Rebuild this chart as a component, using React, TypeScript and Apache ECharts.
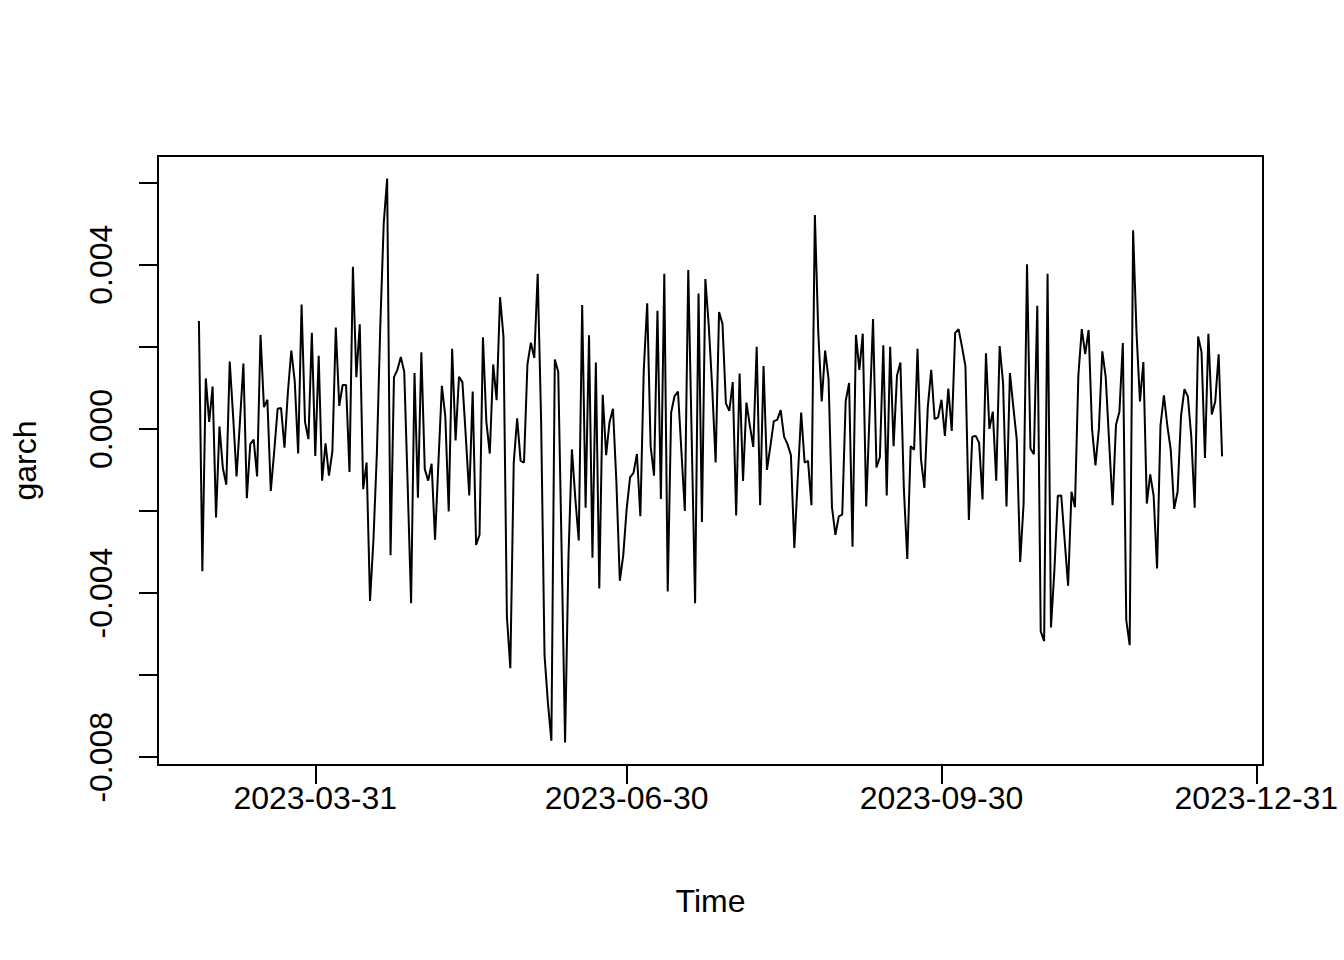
import React, { useEffect, useRef } from "react";
import * as echarts from "echarts";

// Daily series starting 2023-02-25
const START = { y: 2023, m: 1, d: 25 };
const values: number[] = [
  0.00263, -0.00347, 0.00123, 0.00017, 0.00103, -0.00216, 0.00006, -0.00096, -0.00136, 0.00164,
  0.0003, -0.00116, 0.0002, 0.00159, -0.00169, -0.00037, -0.00026, -0.00116, 0.00229, 0.00053,
  0.00071, -0.00151, -0.00055, 0.00049, 0.00051, -0.00046, 0.0009, 0.00191, 0.00116, -0.0006,
  0.00303, 0.00017, -0.00025, 0.00234, -0.00066, 0.00178, -0.00126, -0.00035, -0.00114, -0.00055,
  0.00247, 0.00056, 0.00107, 0.00107, -0.00105, 0.00395, 0.00126, 0.00255, -0.00147, -0.00082,
  -0.00419, -0.0027, -0.0006, 0.0025, 0.005, 0.0061, -0.00308, 0.00126, 0.00144, 0.00175,
  0.00139, -0.00136, -0.00425, 0.00136, -0.00168, 0.00187, -0.00098, -0.00126, -0.00085, -0.0027,
  -0.0008, 0.00105, 0.0003, -0.00201, 0.00195, -0.00028, 0.00127, 0.00114, -0.0002, -0.00162,
  0.00091, -0.00283, -0.00258, 0.00223, 0.00017, -0.0006, 0.00157, 0.0007, 0.00321, 0.00225,
  -0.00457, -0.00583, -0.00082, 0.00026, -0.00078, -0.00082, 0.00157, 0.0021, 0.00173, 0.00378,
  0.0002, -0.00552, -0.00669, -0.0076, 0.00169, 0.00139, -0.003, -0.00764, -0.0031, -0.0005,
  -0.0017, -0.00272, 0.00302, -0.00192, 0.00228, -0.00314, 0.00162, -0.00389, 0.00083, -0.00064,
  0.00017, 0.00049, -0.0013, -0.0037, -0.00308, -0.00195, -0.00118, -0.00107, -0.00061, -0.00213,
  0.00144, 0.00306, -0.00042, -0.00114, 0.00288, -0.00171, 0.00378, -0.00396, 0.0004, 0.0008,
  0.00091, -0.00055, -0.002, 0.00387, -0.0002, -0.00425, 0.0033, -0.00227, 0.00365, 0.0025,
  0.001, -0.00082, 0.00285, 0.00256, 0.00062, 0.00044, 0.00114, -0.00211, 0.00135, -0.00127,
  0.00064, 0.00008, -0.00044, 0.002, -0.00186, 0.00153, -0.001, -0.00042, 0.00019, 0.00022,
  0.00046, -0.00019, -0.00037, -0.00064, -0.0029, -0.0012, 0.0004, -0.00082, -0.00078, -0.00186,
  0.00521, 0.00234, 0.00067, 0.00191, 0.00121, -0.00191, -0.00258, -0.00213, -0.00209, 0.00067,
  0.00112, -0.00287, 0.00229, 0.00144, 0.00232, -0.00189, 0.0004, 0.00268, -0.00094, -0.00069,
  0.00204, -0.00162, 0.002, -0.00042, 0.0013, 0.00162, -0.00145, -0.00317, -0.00042, -0.00051,
  0.00195, -0.00073, -0.00144, 0.00053, 0.00144, 0.00024, 0.00028, 0.00071, -0.00017, 0.00098,
  -0.00005, 0.00234, 0.00243, 0.002, 0.00153, -0.00222, -0.00019, -0.00017, -0.00034, -0.00172,
  0.00184, 0, 0.00042, -0.00126, 0.00202, 0.00112, -0.00189, 0.00136, 0.00053, -0.00026,
  -0.00324, -0.00182, 0.00401, -0.00048, -0.00062, 0.003, -0.00493, -0.00517, 0.00378, -0.00484,
  -0.00344, -0.00163, -0.00162, -0.00272, -0.00382, -0.00153, -0.00191, 0.0013, 0.00243, 0.00182,
  0.00241, 0, -0.00089, 0, 0.00189, 0.00126, -0.00033, -0.00186, 0.0001, 0.00042,
  0.00209, -0.00466, -0.00527, 0.00484, 0.00234, 0.00067, 0.00163, -0.00182, -0.00111, -0.00163,
  -0.0034, 0.00008, 0.00082, 0.00008, -0.00051, -0.00195, -0.00153, 0.00031, 0.00097, 0.00079,
  -0.00019, -0.00192, 0.00225, 0.00187, -0.00071, 0.00232, 0.00035, 0.00067, 0.00182, -0.00067,
];

const xTickLabels = ["2023-03-31", "2023-06-30", "2023-09-30", "2023-12-31"];
const yTicks = [-0.008, -0.006, -0.004, -0.002, 0, 0.002, 0.004, 0.006];
const yLabels = [-0.008, -0.004, 0, 0.004];

const FONT = "'Liberation Sans', Arial, Helvetica, sans-serif";

function parseDay(s: string): number {
  const [y, m, d] = s.split("-").map(Number);
  return new Date(y, m - 1, d).getTime();
}
function fmtDay(t: number): string {
  const dt = new Date(t);
  const p = (n: number) => String(n).padStart(2, "0");
  return `${dt.getFullYear()}-${p(dt.getMonth() + 1)}-${p(dt.getDate())}`;
}

export default function App() {
  const ref = useRef<HTMLDivElement>(null);
  useEffect(() => {
    if (!ref.current) return;
    const chart = echarts.init(ref.current, null, { renderer: "svg" });
    const data = values.map((v, i) => [
      new Date(START.y, START.m, START.d + i).getTime(),
      v,
    ]);
    const t0 = data[0][0] as number;
    const t1 = data[data.length - 1][0] as number;
    const tExt = (t1 - t0) * 0.04;
    const vMin = Math.min(...values);
    const vMax = Math.max(...values);
    const vExt = (vMax - vMin) * 0.04;
    const xTicks = xTickLabels.map(parseDay);
    const textStyle = { color: "#000", fontSize: 32, fontFamily: FONT };

    chart.setOption({
      animation: false,
      backgroundColor: "#ffffff",
      grid: {
        left: 158,
        top: 156,
        width: 1105,
        height: 609,
        show: true,
        borderColor: "#000",
        borderWidth: 2,
        backgroundColor: "transparent",
      },
      xAxis: {
        type: "value",
        position: "bottom",
        min: t0 - tExt,
        max: t1 + tExt,
        scale: true,
        axisLine: { show: false, onZero: false },
        splitLine: { show: false },
        axisTick: {
          show: true,
          length: 19,
          customValues: xTicks,
          lineStyle: { color: "#000", width: 2 },
        },
        axisLabel: {
          customValues: xTicks,
          formatter: (v: number) => fmtDay(v),
          margin: 17,
          ...textStyle,
        },
        name: "Time",
        nameLocation: "middle",
        nameGap: 120,
        nameTextStyle: textStyle,
      },
      yAxis: {
        type: "value",
        position: "left",
        min: vMin - vExt,
        max: vMax + vExt,
        axisLine: { show: false, onZero: false },
        splitLine: { show: false },
        axisTick: {
          show: true,
          length: 19,
          customValues: yTicks,
          lineStyle: { color: "#000", width: 2 },
        },
        axisLabel: {
          customValues: yLabels,
          rotate: 90,
          formatter: (v: number) => (Math.abs(v) < 1e-12 ? 0 : v).toFixed(3),
          margin: 41,
          ...textStyle,
        },
        name: "garch",
        nameLocation: "middle",
        nameGap: 117,
        nameRotate: 90,
        nameTextStyle: textStyle,
      },
      series: [
        {
          type: "line",
          data,
          showSymbol: false,
          symbol: "none",
          lineStyle: { color: "#000", width: 2 },
        },
      ],
    });
    return () => chart.dispose();
  }, []);
  return (
    <div
      ref={ref}
      style={{ position: "absolute", left: 0, top: 0, width: 1344, height: 960 }}
    />
  );
}
